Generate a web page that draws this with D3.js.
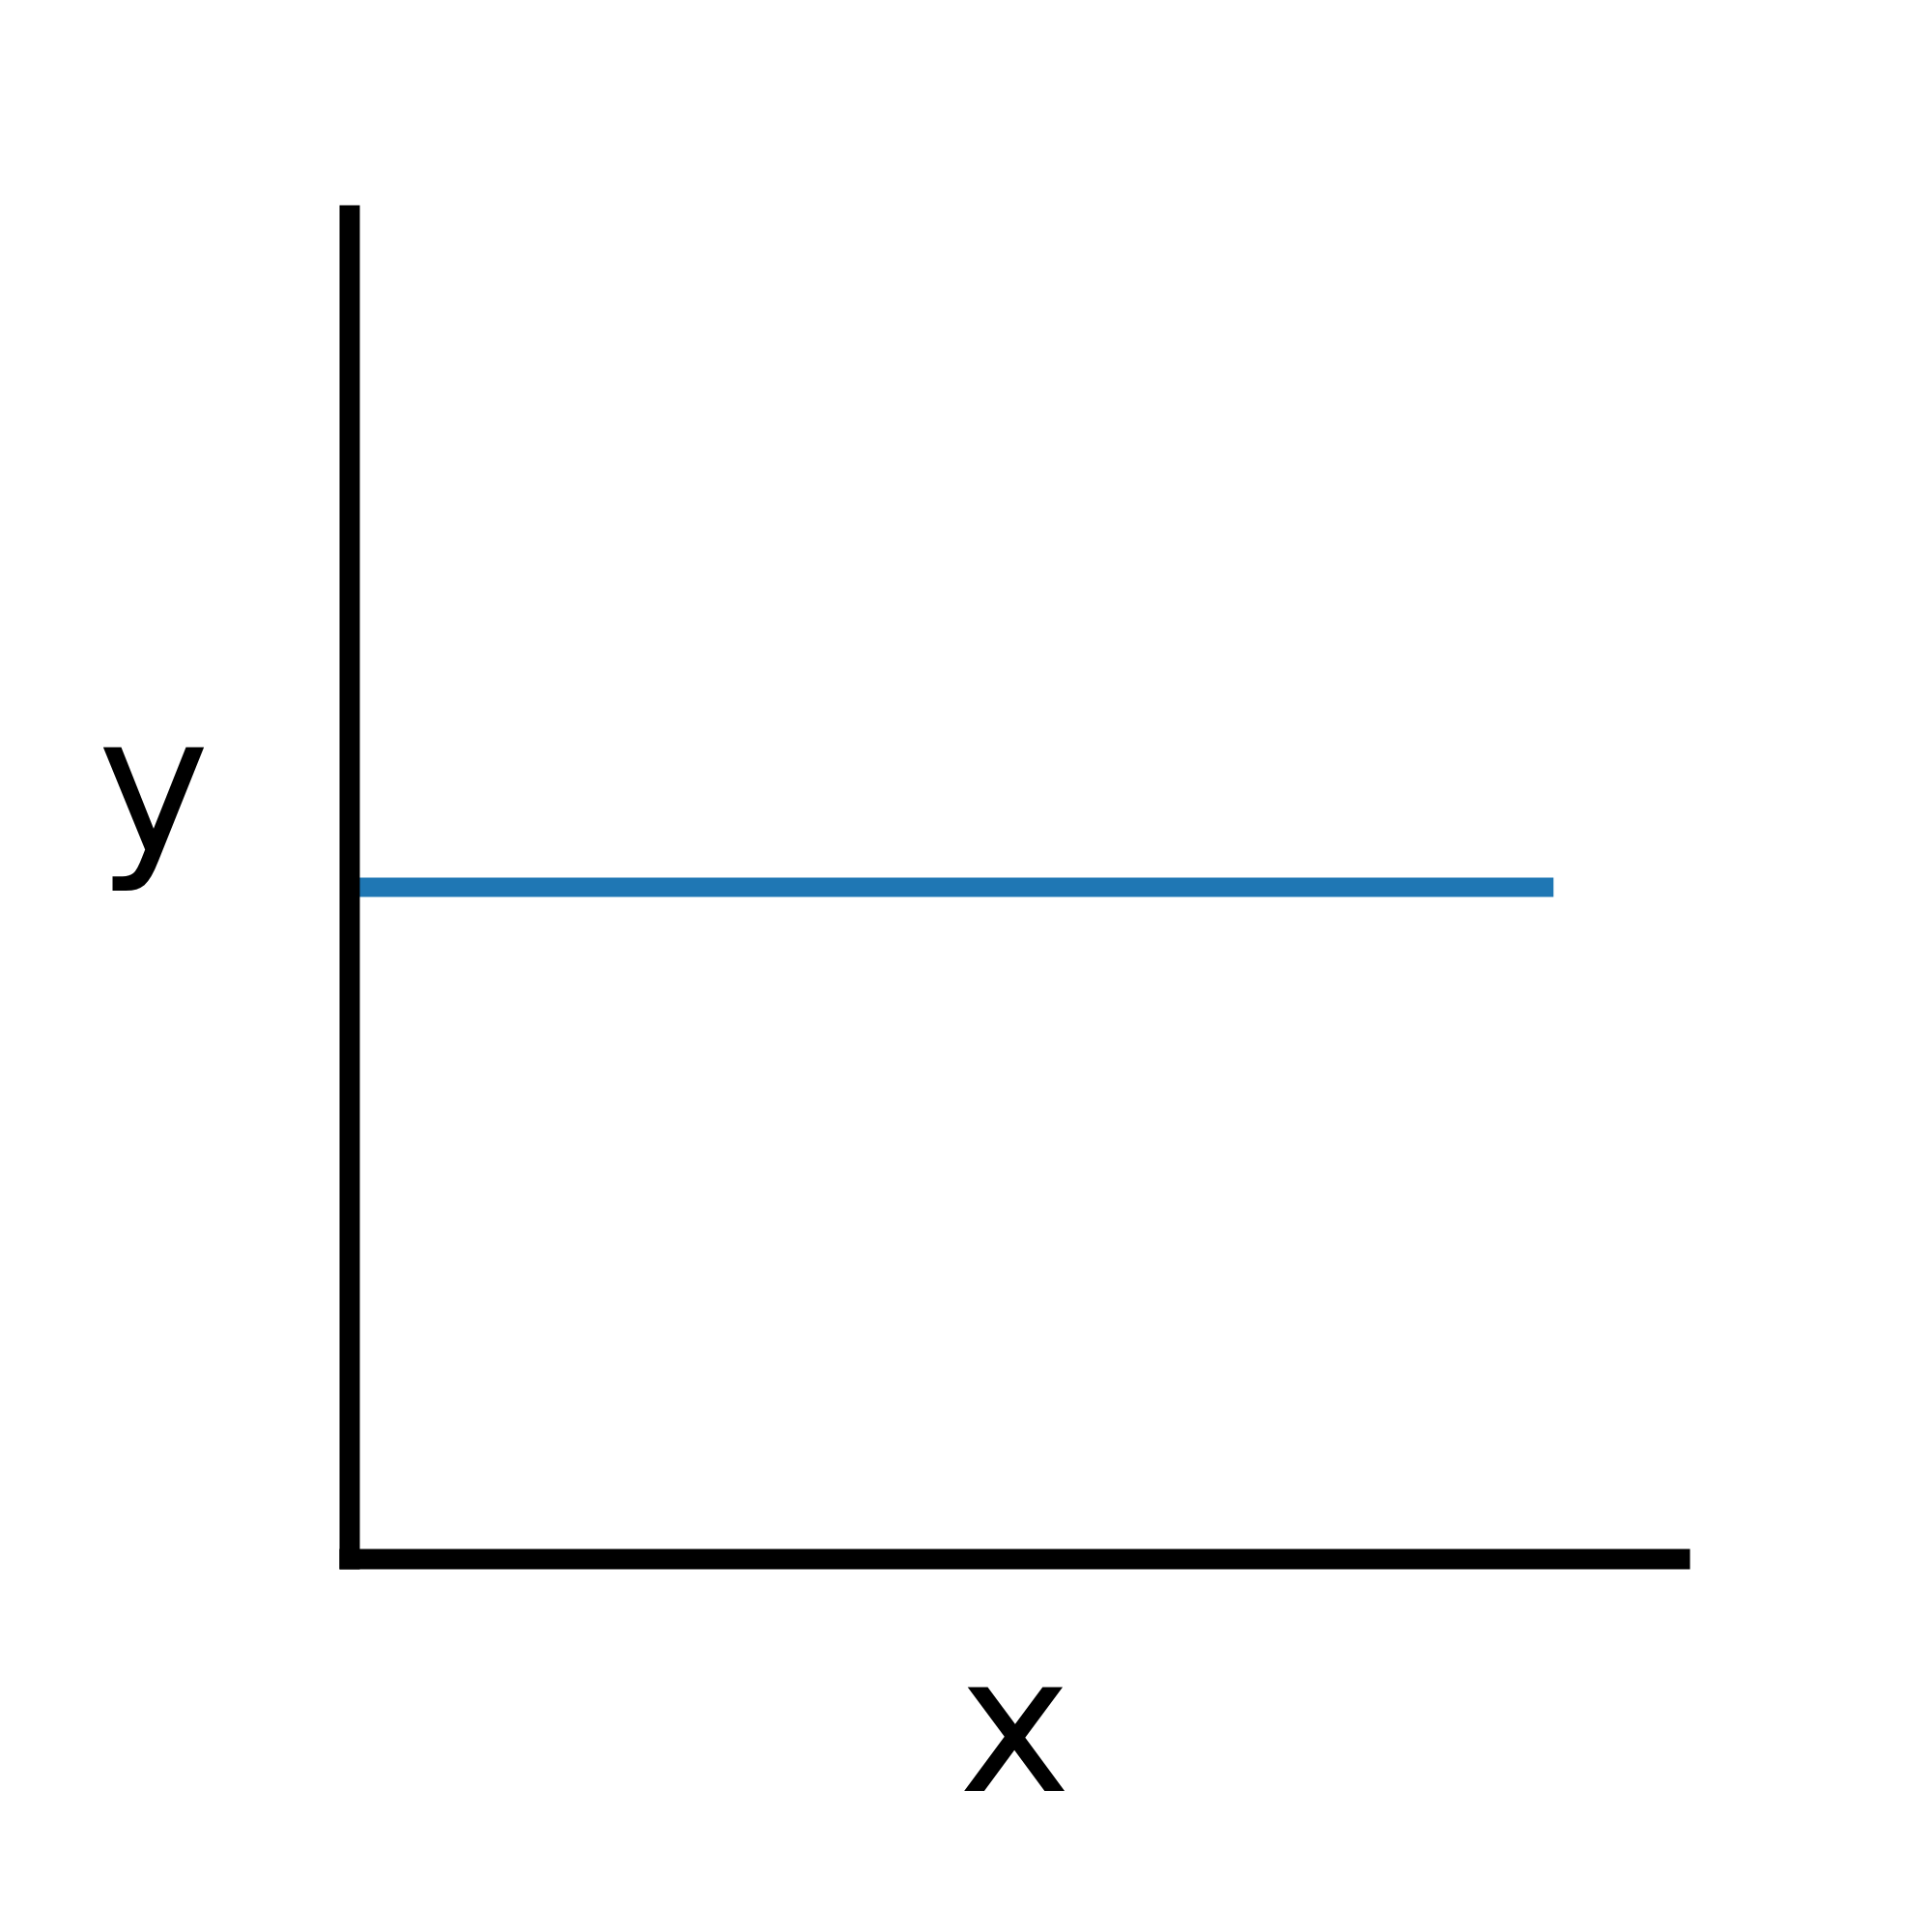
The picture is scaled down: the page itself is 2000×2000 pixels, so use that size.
<!DOCTYPE html>
<html>
<head>
<meta charset="utf-8">
<script src="https://cdn.jsdelivr.net/npm/d3@7"></script>
<style>
	body { margin: 0; background: #fff; }
	.axis path.domain { stroke: #000; stroke-width: 21; stroke-linecap: square; }
	.axis-label { font-family: "DejaVu Sans", sans-serif; font-size: 196px; fill: #000; }
	.series-line { fill: none; stroke: #1f77b4; stroke-width: 20; stroke-linecap: butt; }
</style>
</head>
<body>
<div id="chart"></div>
<script>
////////////////////////////////////////////////////////////
////////////////////// The data ////////////////////////////
////////////////////////////////////////////////////////////

var xDomain = [0, 1],
	yDomain = [0, 1];

var seriesX = [0, 0.905],
	seriesY = [0.5, 0.5];

var xLabel = "x",
	yLabel = "y";

////////////////////////////////////////////////////////////
////////////////////// Set-up //////////////////////////////
////////////////////////////////////////////////////////////

var margin = {top: 223, right: 261, bottom: 386, left: 362},
	width = 2000 - margin.left - margin.right,
	height = 2000 - margin.top - margin.bottom;

var svg = d3.select("#chart").append("svg")
	.attr("width", 2000)
	.attr("height", 2000);

var g = svg.append("g")
	.attr("transform", "translate(" + margin.left + "," + margin.top + ")");

var xScale = d3.scaleLinear().domain(xDomain).range([0, width]),
	yScale = d3.scaleLinear().domain(yDomain).range([height, 0]);

////////////////////////////////////////////////////////////
////////////////////// The line ////////////////////////////
////////////////////////////////////////////////////////////

//Drawn first so the spines sit on top of it
var line = d3.line()
	.x(function(d) { return xScale(d[0]); })
	.y(function(d) { return yScale(d[1]); });

g.append("path")
	.datum(d3.zip(seriesX, seriesY))
	.attr("class", "series-line")
	.attr("d", line);

////////////////////////////////////////////////////////////
////////////////////// Axes ////////////////////////////////
////////////////////////////////////////////////////////////

//No ticks, only the two spines
g.append("g")
	.attr("class", "axis x-axis")
	.attr("transform", "translate(0," + height + ")")
	.call(d3.axisBottom(xScale).tickValues([]).tickSizeOuter(0).offset(0));

g.append("g")
	.attr("class", "axis y-axis")
	.call(d3.axisLeft(yScale).tickValues([]).tickSizeOuter(0).offset(0));

//Axis labels
g.append("text")
	.attr("class", "axis-label")
	.attr("x", width / 2)
	.attr("y", height + 240)
	.attr("text-anchor", "middle")
	.text(xLabel);

g.append("text")
	.attr("class", "axis-label")
	.attr("x", -203)
	.attr("y", yScale(0.5) - 38)
	.attr("text-anchor", "middle")
	.text(yLabel);
</script>
</body>
</html>
